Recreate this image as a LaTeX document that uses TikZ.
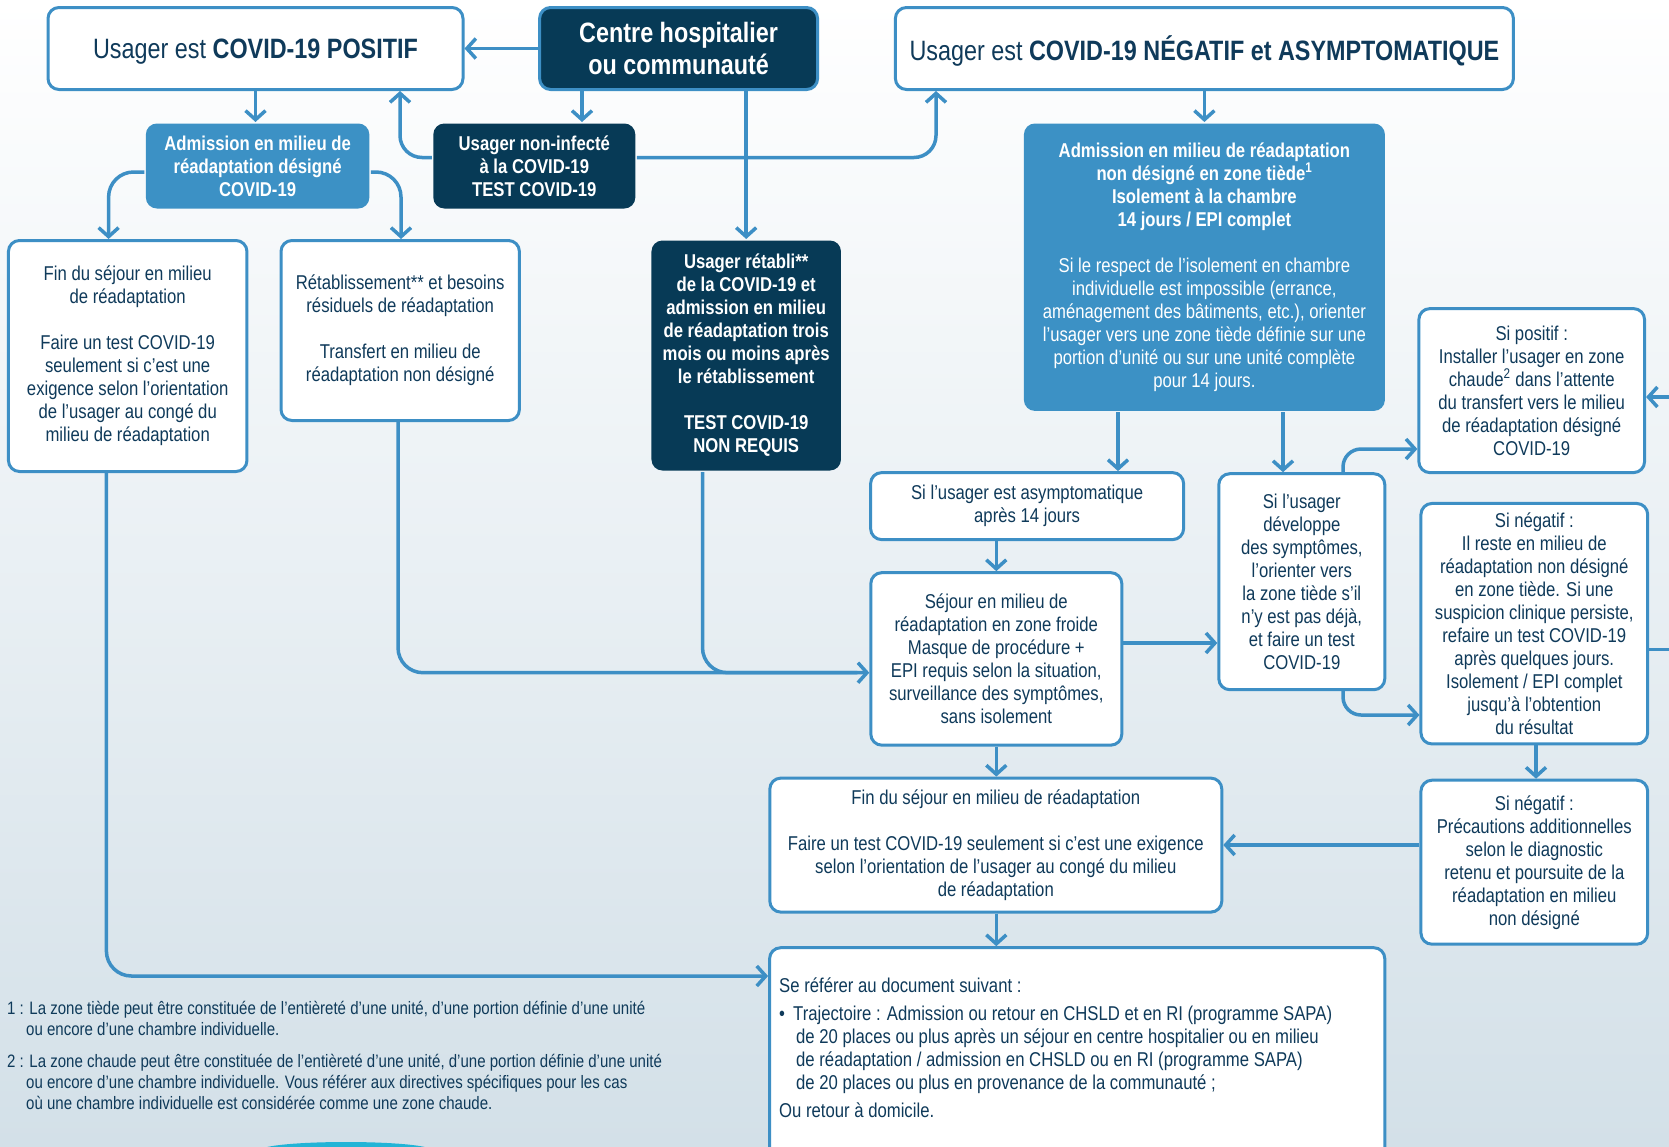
\documentclass[tikz,border=0pt]{standalone}
\usepackage{fontspec}
\setmainfont{Liberation Sans}[FakeStretch=0.835]
\usetikzlibrary{arrows.meta,calc}
\definecolor{navy}{HTML}{073A56}
\definecolor{txtnavy}{HTML}{0F3A5A}
\definecolor{mblue}{HTML}{3C91C5}
\definecolor{lblue}{HTML}{3D8FC5}
\definecolor{bgbot}{HTML}{D3E0E8}
\definecolor{bgmid}{HTML}{EBF1F5}
\definecolor{cyanarc}{HTML}{22B4D6}
\begin{document}
\begin{tikzpicture}[x=1pt,y=-1pt,
  basebox/.style={rectangle, rounded corners=11pt, align=center, inner sep=0pt, line width=3pt},
  whitebox/.style={basebox, draw=lblue, fill=white, text=txtnavy, font=\fontsize{20}{23}\selectfont},
  darkbox/.style={basebox, fill=navy, text=white, font=\bfseries\fontsize{20}{23}\selectfont},
  bluebox/.style={basebox, fill=mblue, text=white, font=\fontsize{20}{23}\selectfont},
  titlebox/.style={basebox, draw=lblue, fill=white, text=txtnavy, font=\fontsize{28}{32}\selectfont},
  conn/.style={draw=lblue, line width=3.5pt},
  arr/.style={conn, -{Straight Barb[length=9pt,width=20pt]}},
  sz/.style 2 args={minimum width=#1pt, minimum height=#2pt},
  foot/.style={text=txtnavy, font=\fontsize{18}{21}\selectfont, align=left, inner sep=0pt, anchor=north west}
]
\useasboundingbox (0,0) rectangle (1669,1146);
\clip (0,0) rectangle (1669,1146);
\shade[top color=white, middle color=bgmid, bottom color=bgbot] (0,0) rectangle (1669,1146);
\fill[cyanarc] (346,1150) ellipse [x radius=85, y radius=8];

% ---------- nodes ----------
\node[titlebox, text depth=0pt, sz={415}{82}] (pos) at (255.5,48.5) {Usager est \textbf{COVID-19 POSITIF}};
\node[titlebox, fill=navy, text=white, font=\bfseries\fontsize{28}{32}\selectfont, sz={278}{82}] (centre) at (678.6,48.5) {Centre hospitalier\\ou communauté};
\node[titlebox, text depth=0pt, sz={618}{82}] (neg) at (1204.4,48.5) {Usager est \textbf{COVID-19 NÉGATIF et ASYMPTOMATIQUE}};

\node[bluebox, font=\bfseries\fontsize{20}{23}\selectfont, sz={223.5}{85}] (adm) at (257.6,166) {Admission en milieu de\\réadaptation désigné\\COVID-19};
\node[darkbox, sz={202}{85}] (noninf) at (534.3,166) {Usager non-infecté\\à la COVID-19\\TEST COVID-19};
\node[bluebox, sz={361}{287.4}] (admnd) at (1204.4,267.2) {\textbf{Admission en milieu de réadaptation}\\\textbf{non désigné en zone tiède\textsuperscript{1}}\\\textbf{Isolement à la chambre}\\\textbf{14 jours / EPI complet}\\[23pt]Si le respect de l’isolement en chambre\\individuelle est impossible (errance,\\aménagement des bâtiments, etc.), orienter\\l’usager vers une zone tiède définie sur une\\portion d’unité ou sur une unité complète\\pour 14 jours.};

\node[whitebox, sz={238.5}{231}] (finL) at (127.7,356) {Fin du séjour en milieu\\de réadaptation\\[23pt]Faire un test COVID-19\\seulement si c’est une\\exigence selon l’orientation\\de l’usager au congé du\\milieu de réadaptation};
\node[whitebox, sz={238.4}{180}] (retab) at (400.2,330.5) {Rétablissement** et besoins\\résiduels de réadaptation\\[23pt]Transfert en milieu de\\réadaptation non désigné};
\node[darkbox, sz={189.5}{230}] (retabli) at (746.2,355.5) {Usager rétabli**\\de la COVID-19 et\\admission en milieu\\de réadaptation trois\\mois ou moins après\\le rétablissement\\[23pt]TEST COVID-19\\NON REQUIS};
\node[whitebox, sz={225.7}{164}] (sipos) at (1531.7,390.6) {Si positif :\\Installer l’usager en zone\\chaude\textsuperscript{2} dans l’attente\\du transfert vers le milieu\\de réadaptation désigné\\COVID-19};
\node[whitebox, sz={313}{67}] (siasym) at (1027.1,506.1) {Si l’usager est asymptomatique\\après 14 jours};
\node[whitebox, sz={166}{216}] (sidev) at (1301.8,581.7) {Si l’usager\\développe\\des symptômes,\\l’orienter vers\\la zone tiède s’il\\n’y est pas déjà,\\et faire un test\\COVID-19};
\node[whitebox, sz={226.7}{240.5}] (sineg1) at (1534.3,623.7) {Si négatif :\\Il reste en milieu de\\réadaptation non désigné\\en zone tiède. Si une\\suspicion clinique persiste,\\refaire un test COVID-19\\après quelques jours.\\Isolement / EPI complet\\jusqu’à l’obtention\\du résultat};
\node[whitebox, sz={251}{172.5}] (sejour) at (996.3,658.9) {Séjour en milieu de\\réadaptation en zone froide\\Masque de procédure +\\EPI requis selon la situation,\\surveillance des symptômes,\\sans isolement};
\node[whitebox, sz={452}{134}] (finB) at (995.8,845.1) {Fin du séjour en milieu de réadaptation\\[23pt]Faire un test COVID-19 seulement si c’est une exigence\\selon l’orientation de l’usager au congé du milieu\\de réadaptation};
\node[whitebox, sz={226.7}{164}] (sineg2) at (1534.3,862.2) {Si négatif :\\Précautions additionnelles\\selon le diagnostic\\retenu et poursuite de la\\réadaptation en milieu\\non désigné};
\node[whitebox, sz={615.2}{250}, anchor=north] (seref) at (1077.2,946.2) {};
\node[text=txtnavy, font=\fontsize{20}{23}\selectfont, align=left, inner sep=0pt, anchor=north west] (sereft) at (779,977.5) {Se référer au document suivant :\\[5pt]\makebox[14pt][l]{•}Trajectoire : Admission ou retour en CHSLD et en RI (programme SAPA)\\\hspace*{17pt}de 20 places ou plus après un séjour en centre hospitalier ou en milieu\\\hspace*{17pt}de réadaptation / admission en CHSLD ou en RI (programme SAPA)\\\hspace*{17pt}de 20 places ou plus en provenance de la communauté ;\\[5pt]Ou retour à domicile.};

\node[foot] (fn1) at (7,1001) {1 : La zone tiède peut être constituée de l’entièreté d’une unité, d’une portion définie d’une unité\\\hspace*{19pt}ou encore d’une chambre individuelle.};
\node[foot] (fn2) at (7,1054) {2 : La zone chaude peut être constituée de l’entièreté d’une unité, d’une portion définie d’une unité\\\hspace*{19pt}ou encore d’une chambre individuelle. Vous référer aux directives spécifiques pour les cas\\\hspace*{19pt}où une chambre individuelle est considérée comme une zone chaude.};

% ---------- connectors ----------
\coordinate (xA) at (582,0);
\coordinate (offA) at (1669,397);
\coordinate (offB) at (1669,649.5);

\draw[arr] (centre.west) -- (pos.east);
\draw[arr] (centre.south -| xA) -- (noninf.north -| xA);
\draw[arr] (centre.south -| retabli.north) -- (retabli.north);
\draw[arr, rounded corners=22pt] (noninf.west |- 0,157.5) -| (pos.south -| 400,0);
\draw[arr, rounded corners=22pt] (noninf.east |- 0,157.5) -| (neg.south -| 936,0);
\draw[arr] (pos.south) -- (adm.north -| pos.south);
\draw[arr, rounded corners=25pt] (adm.west |- 0,172) -| (finL.north -| 108.6,0);
\draw[arr, rounded corners=25pt] (adm.east |- 0,172) -| (retab.north -| 401,0);

\draw[arr] (neg.south) -- (admnd.north);
\draw[arr] (admnd.south -| 1118,0) -- (siasym.north -| 1118,0);
\draw[arr] (admnd.south -| 1283,0) -- (sidev.north -| 1283,0);
\draw[arr] (siasym.south -| sejour.north) -- (sejour.north);
\draw[arr] (sejour.east |- 0,643) -- (sidev.west |- 0,643);
\draw[arr, rounded corners=18pt] (sidev.north -| 1343,0) |- (sipos.west |- 0,449);
\draw[arr, rounded corners=18pt] (sidev.south -| 1343,0) |- (sineg1.west |- 0,715);
\draw[arr] (sineg1.south -| 1536,0) -- (sineg2.north -| 1536,0);
\draw[arr] (sineg2.west |- 0,845) -- (finB.east |- 0,845);
\draw[arr] (sejour.south) -- (finB.north -| sejour.south);
\draw[arr] (finB.south -| 996.3,0) -- (seref.north -| 996.3,0);
\draw[arr, rounded corners=25pt] (retab.south -| 398,0) |- (sejour.west |- 0,672.7);
\draw[conn, rounded corners=25pt, shorten >=12pt] (retabli.south -| 702.5,0) |- (sejour.west |- 0,672.7);
\draw[arr, rounded corners=25pt] (finL.south -| 106.4,0) |- (seref.west |- 0,976);
\draw[arr] (offA) -- (sipos.east |- offA);
\draw[conn] (sineg1.east |- offB) -- (offB);
\end{tikzpicture}
\end{document}
